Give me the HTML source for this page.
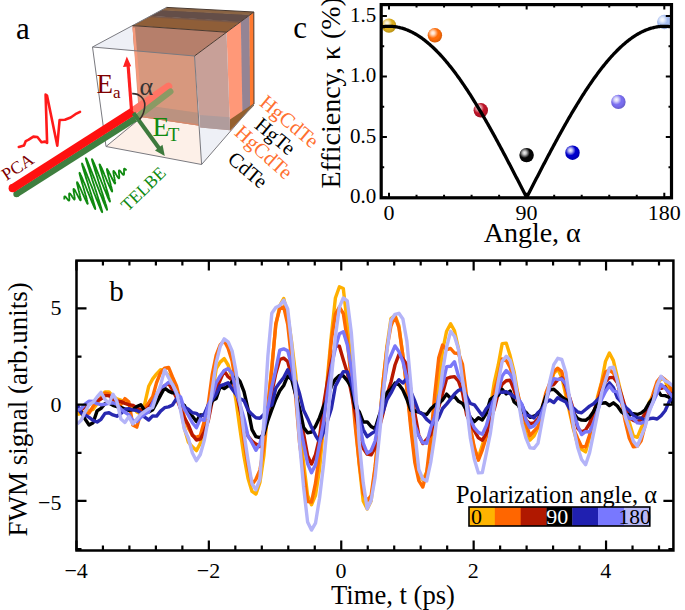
<!DOCTYPE html>
<html><head><meta charset="utf-8"><style>
html,body{margin:0;padding:0;background:#fff;overflow:hidden;width:685px;height:610px;}
svg{display:block;}
text{font-family:"Liberation Serif", serif;}
</style></head><body>
<svg width="685" height="610" viewBox="0 0 685 610" font-family='"Liberation Serif", serif'>
<defs>
<radialGradient id="hl" cx="0.36" cy="0.34" r="0.36"><stop offset="0" stop-color="#fff" stop-opacity="0.95"/><stop offset="0.35" stop-color="#fff" stop-opacity="0.75"/><stop offset="1" stop-color="#fff" stop-opacity="0"/></radialGradient>
<radialGradient id="sh" cx="0.45" cy="0.42" r="0.6"><stop offset="0.6" stop-color="#000" stop-opacity="0"/><stop offset="1" stop-color="#000" stop-opacity="0.18"/></radialGradient>
</defs>
<polygon points="92.5,47.0 194.5,56.0 253.8,12.0 166.5,7.4" fill="#eef0f6"/>
<polygon points="194.5,56.0 253.8,12.0 254.0,104.0 201.6,164.5" fill="#eef0f6"/>
<polygon points="106.0,146.5 201.6,164.5 230.0,130.3 139.0,116.8" fill="#fdf0e8"/>
<polygon points="132.5,25.6 226.5,32.2 230.0,130.3 139.0,116.8" fill="#d7987e"/>
<polygon points="138.5,104.3 229.5,117.3 230.0,130.3 139.0,116.8" fill="#bb9280"/>
<line x1="139" y1="116.2" x2="230" y2="129.70000000000002" stroke="#d8886a" stroke-width="1.2"/>
<polygon points="132.5,25.6 226.5,32.2 240.2,22.1 149.5,16.5" fill="#8f5e38"/>
<polygon points="148.0,17.3 239.0,23.0 241.3,21.2 151.0,15.7" fill="#7a5846"/>
<polygon points="150.2,16.1 240.8,21.7 250.2,14.6 162.1,9.8" fill="#644e48"/>
<polygon points="161.3,10.2 249.6,15.1 253.8,12.0 166.5,7.4" fill="#8a6444"/>
<polygon points="226.5,32.2 241.3,21.2 243.0,116.7 229.9,131.8" fill="#ff9878"/>
<polygon points="240.8,21.7 249.6,15.1 250.3,108.2 242.5,117.3" fill="#948494"/>
<polygon points="249.4,15.3 253.8,12.0 254.0,104.0 250.1,108.5" fill="#ff7a30"/>
<polygon points="230.0,130.5 254.0,105.5 254.0,103.3 230.0,119.5" fill="#94602f"/>
<polygon points="134.2,50.8 194.5,56.0 226.5,32.2 132.5,25.6" fill="#b67f6b"/>
<polygon points="194.5,56.0 226.5,32.2 230.0,130.3 201.6,164.5" fill="#eef0f6"/>
<polygon points="194.5,56.0 226.5,32.2 230.0,130.3 200.2,127.4" fill="#c8a098"/>
<polygon points="199.9,114.9 229.5,117.3 230.0,130.3 200.2,127.4" fill="#b09c9c"/>
<line x1="133.7" y1="27.6" x2="140.2" y2="102.8" stroke="#f59a7c" stroke-width="2.5"/>
<path d="M92.5,47.0 166.5,7.4M92.5,47.0 106.0,146.5M106.0,146.5 201.6,164.5M201.6,164.5 254.0,104.0M194.5,56.0 201.6,164.5M92.5,47.0 194.5,56.0M106.0,146.5 137.0,121.0" stroke="#7a7a80" stroke-width="1" fill="none"/>
<path d="M194.5,56.0 253.8,12.0M253.8,12.0 254.0,104.0M166.5,7.4 253.8,12.0M132.5,25.6 226.5,32.2" stroke="#4a3a30" stroke-width="1" fill="none"/>
<line x1="133" y1="111" x2="168.5" y2="86.5" stroke="#ff7464" stroke-width="7.6" stroke-linecap="round"/>
<line x1="137" y1="117" x2="170.5" y2="91.5" stroke="#8a9a64" stroke-width="6" stroke-linecap="round"/>
<line x1="16.5" y1="194.1" x2="135.2" y2="118.5" stroke="#3f7f3f" stroke-width="6.4"/><circle cx="16.5" cy="194.1" r="3.2" fill="#3f7f3f"/>
<line x1="12.7" y1="188.2" x2="133.2" y2="111.3" stroke="#ff1010" stroke-width="8.2"/><circle cx="12.7" cy="188.2" r="4.1" fill="#ff1010"/>
<line x1="131.5" y1="110" x2="128" y2="64" stroke="#ff2020" stroke-width="3.2"/>
<polygon points="126.8,56.5 123.0,67.0 131.2,66.3" fill="#ff2020"/>
<line x1="133.5" y1="113" x2="160" y2="149.5" stroke="#3d7a3d" stroke-width="4"/>
<polygon points="164.8,156.0 155.0,150.5 162.5,144.8" fill="#3d7a3d"/>
<path d="M132.2,93.6 C139.5,93.4 144.9,98.5 144.8,105 C144.7,111 142.6,116 139.6,119.6" stroke="#3a2c2c" stroke-width="1.6" fill="none"/>
<text x="96.4" y="93" font-size="27" fill="#7f0000">E</text>
<text x="113" y="98" font-size="17" fill="#7f0000">a</text>
<text x="139.5" y="95.3" font-size="26" fill="#333">α</text>
<text x="152.5" y="135.6" font-size="27.5" fill="#108a10">E</text>
<text x="168" y="140.9" font-size="18.5" fill="#108a10">T</text>
<polyline points="18.8,146.9 24.0,145.5 25.8,141.1 28.7,139.7 33.4,136.6 37.4,137.0 41.5,142.2 45.0,141.6 47.1,142.8 45.6,94.6 47.0,95.5 57.3,145.7 59.6,120.0 64.9,119.8 70.7,117.5 75.4,114.2 80.0,111.9" fill="none" stroke="#ff1a1a" stroke-width="2.6" stroke-linejoin="round" stroke-linecap="round"/>
<polyline points="64.3,199.5 64.3,199.2 64.3,198.9 64.3,198.5 64.3,198.2 64.3,198.0 64.3,197.7 64.3,197.4 64.3,197.2 64.3,197.0 64.4,196.8 64.4,196.6 64.5,196.5 64.6,196.4 64.6,196.4 64.7,196.3 64.8,196.3 64.9,196.4 65.1,196.4 65.2,196.5 65.4,196.6 65.5,196.8 65.7,197.0 65.8,197.2 66.0,197.4 66.2,197.6 66.4,197.8 66.6,198.1 66.8,198.3 67.0,198.6 67.2,198.9 67.4,199.1 67.6,199.3 67.7,199.6 67.9,199.8 68.1,200.0 68.3,200.1 68.4,200.3 68.6,200.4 68.7,200.5 68.8,200.6 68.9,200.6 69.0,200.6 69.1,200.5 69.2,200.4 69.3,200.3 69.3,200.2 69.3,200.0 69.4,199.8 69.4,199.5 69.4,199.2 69.4,198.9 69.4,198.6 69.4,198.3 69.3,197.9 69.3,197.6 69.3,197.2 69.2,196.8 69.2,196.4 69.2,196.1 69.2,195.7 69.1,195.3 69.1,195.0 69.1,194.7 69.1,194.4 69.1,194.1 69.1,193.9 69.2,193.7 69.2,193.6 69.3,193.4 69.4,193.3 69.5,193.3 69.6,193.3 69.7,193.3 69.8,193.4 70.0,193.5 70.1,193.7 70.3,193.9 70.5,194.1 70.7,194.4 70.9,194.7 71.1,195.0 71.3,195.3 71.5,195.7 71.8,196.0 72.0,196.4 72.2,196.7 72.5,197.1 72.7,197.5 72.9,197.8 73.1,198.1 73.3,198.4 73.5,198.7 73.7,198.9 73.9,199.1 74.1,199.3 74.2,199.4 74.3,199.5 74.4,199.5 74.5,199.4 74.6,199.4 74.7,199.2 74.7,199.0 74.7,198.8 74.7,198.5 74.7,198.2 74.7,197.8 74.6,197.4 74.6,196.9 74.5,196.5 74.4,195.9 74.3,195.4 74.3,194.9 74.2,194.3 74.1,193.7 74.0,193.2 73.9,192.6 73.8,192.1 73.7,191.6 73.6,191.1 73.6,190.6 73.5,190.2 73.5,189.9 73.5,189.5 73.5,189.3 73.6,189.1 73.6,189.0 73.7,188.9 73.8,188.9 73.9,189.0 74.1,189.1 74.3,189.3 74.5,189.6 74.7,189.9 74.9,190.3 75.2,190.8 75.5,191.3 75.8,191.9 76.1,192.4 76.4,193.1 76.7,193.7 77.1,194.4 77.4,195.0 77.8,195.7 78.1,196.3 78.4,197.0 78.7,197.6 79.0,198.1 79.3,198.6 79.6,199.1 79.8,199.5 80.1,199.8 80.2,200.1 80.4,200.2 80.5,200.3 80.6,200.3 80.7,200.2 80.8,200.0 80.8,199.7 80.7,199.4 80.7,198.9 80.6,198.3 80.4,197.7 80.3,197.0 80.1,196.2 79.9,195.4 79.7,194.5 79.5,193.5 79.2,192.5 79.0,191.5 78.7,190.5 78.5,189.5 78.2,188.6 78.0,187.6 77.8,186.7 77.6,185.8 77.4,185.0 77.2,184.3 77.1,183.7 77.0,183.1 77.0,182.7 77.0,182.4 77.0,182.2 77.1,182.1 77.2,182.1 77.3,182.3 77.5,182.6 77.8,183.0 78.1,183.5 78.4,184.2 78.8,185.0 79.2,185.8 79.7,186.8 80.2,187.9 80.7,189.0 81.2,190.2 81.7,191.4 82.3,192.6 82.8,193.9 83.4,195.1 83.9,196.4 84.4,197.5 84.9,198.7 85.4,199.7 85.9,200.7 86.3,201.5 86.6,202.3 87.0,202.9 87.2,203.4 87.4,203.7 87.6,203.9 87.7,203.9 87.8,203.7 87.7,203.4 87.7,202.9 87.5,202.2 87.3,201.4 87.1,200.4 86.8,199.3 86.5,198.0 86.1,196.6 85.6,195.1 85.2,193.6 84.7,191.9 84.2,190.2 83.7,188.5 83.2,186.8 82.7,185.0 82.2,183.4 81.7,181.7 81.3,180.2 80.8,178.7 80.5,177.4 80.2,176.2 79.9,175.2 79.7,174.3 79.5,173.6 79.5,173.1 79.5,172.9 79.6,172.8 79.7,172.9 79.9,173.3 80.3,173.9 80.6,174.6 81.1,175.6 81.6,176.8 82.2,178.2 82.8,179.7 83.5,181.4 84.3,183.1 85.1,185.0 85.9,187.0 86.7,189.1 87.5,191.1 88.4,193.2 89.2,195.2 90.0,197.2 90.8,199.2 91.5,201.0 92.2,202.6 92.9,204.2 93.5,205.5 94.0,206.7 94.4,207.6 94.8,208.3 95.1,208.8 95.2,209.0 95.3,209.0 95.3,208.7 95.2,208.1 95.0,207.3 94.8,206.2 94.4,204.9 93.9,203.3 93.4,201.6 92.8,199.6 92.2,197.5 91.5,195.3 90.7,192.9 90.0,190.4 89.2,187.9 88.4,185.4 87.6,182.8 86.8,180.3 86.0,177.9 85.3,175.5 84.6,173.3 84.0,171.3 83.4,169.4 83.0,167.8 82.6,166.4 82.3,165.3 82.1,164.4 82.0,163.8 82.0,163.5 82.1,163.5 82.3,163.8 82.6,164.4 83.0,165.3 83.6,166.5 84.2,168.0 84.9,169.7 85.7,171.7 86.6,173.8 87.5,176.2 88.5,178.7 89.5,181.3 90.6,184.0 91.7,186.7 92.8,189.5 93.8,192.3 94.9,195.0 95.9,197.6 96.9,200.1 97.9,202.4 98.7,204.6 99.5,206.5 100.2,208.2 100.8,209.6 101.3,210.7 101.7,211.5 102.0,212.0 102.2,212.2 102.2,212.1 102.2,211.6 102.0,210.8 101.7,209.7 101.3,208.2 100.8,206.5 100.2,204.5 99.5,202.3 98.7,199.9 97.9,197.3 97.0,194.5 96.1,191.6 95.1,188.6 94.2,185.6 93.2,182.6 92.2,179.6 91.3,176.6 90.4,173.8 89.5,171.1 88.8,168.6 88.0,166.3 87.4,164.3 86.9,162.5 86.4,161.0 86.1,159.8 85.9,158.9 85.8,158.4 85.9,158.2 86.0,158.3 86.3,158.7 86.7,159.5 87.2,160.7 87.8,162.1 88.5,163.8 89.3,165.8 90.2,168.0 91.1,170.4 92.2,173.0 93.2,175.7 94.4,178.6 95.5,181.5 96.6,184.4 97.8,187.4 98.9,190.2 100.0,193.1 101.1,195.7 102.1,198.3 103.0,200.6 103.9,202.8 104.7,204.7 105.3,206.3 105.9,207.6 106.4,208.6 106.8,209.4 107.0,209.8 107.1,209.8 107.1,209.5 107.0,209.0 106.8,208.1 106.5,206.8 106.1,205.3 105.5,203.6 104.9,201.6 104.2,199.4 103.5,197.0 102.7,194.4 101.8,191.7 100.9,188.9 100.0,186.1 99.1,183.3 98.2,180.4 97.4,177.7 96.5,175.0 95.7,172.4 94.9,170.0 94.3,167.8 93.7,165.8 93.1,164.0 92.7,162.5 92.3,161.3 92.1,160.3 92.0,159.6 91.9,159.2 92.0,159.1 92.2,159.4 92.5,159.9 92.9,160.7 93.3,161.7 93.9,163.0 94.6,164.6 95.3,166.3 96.1,168.2 96.9,170.3 97.8,172.6 98.7,174.9 99.7,177.3 100.7,179.7 101.6,182.1 102.6,184.5 103.5,186.8 104.4,189.1 105.3,191.2 106.1,193.2 106.8,195.0 107.5,196.6 108.1,198.1 108.7,199.3 109.1,200.2 109.5,200.9 109.7,201.4 109.9,201.6 110.0,201.5 110.0,201.2 109.9,200.7 109.7,199.9 109.5,198.9 109.1,197.7 108.7,196.3 108.3,194.7 107.8,193.0 107.2,191.1 106.6,189.2 106.0,187.2 105.4,185.1 104.7,183.0 104.1,180.9 103.5,178.9 102.9,176.9 102.3,175.0 101.8,173.2 101.3,171.5 100.8,170.0 100.4,168.6 100.1,167.4 99.9,166.4 99.7,165.5 99.6,164.9 99.5,164.5 99.5,164.3 99.6,164.3 99.8,164.5 100.1,164.9 100.4,165.5 100.7,166.2 101.2,167.2 101.7,168.2 102.2,169.4 102.8,170.7 103.4,172.1 104.0,173.6 104.6,175.1 105.3,176.7 105.9,178.2 106.6,179.8 107.2,181.3 107.9,182.8 108.5,184.2 109.0,185.5 109.6,186.7 110.1,187.8 110.5,188.8 110.9,189.6 111.3,190.3 111.6,190.9 111.8,191.2 112.0,191.5 112.1,191.5 112.2,191.4 112.2,191.2 112.2,190.8 112.1,190.3 112.0,189.6 111.8,188.8 111.6,187.9 111.3,186.9 111.0,185.9 110.7,184.7 110.4,183.6 110.1,182.3 109.8,181.1 109.4,179.9 109.1,178.6 108.8,177.4 108.4,176.2 108.2,175.1 107.9,174.1 107.6,173.1 107.4,172.2 107.3,171.4 107.1,170.8 107.0,170.2 107.0,169.7 106.9,169.4 107.0,169.2 107.0,169.0 107.1,169.1 107.3,169.2 107.5,169.4 107.7,169.7 107.9,170.1 108.2,170.6 108.5,171.2 108.9,171.9 109.2,172.6 109.6,173.4 110.0,174.2 110.4,175.0 110.8,175.8 111.2,176.6 111.6,177.5 112.0,178.3 112.3,179.0 112.7,179.8 113.1,180.5 113.4,181.1 113.7,181.7 114.0,182.2 114.2,182.6 114.4,182.9 114.6,183.2 114.8,183.4 114.9,183.4 115.0,183.5 115.1,183.4 115.2,183.2 115.2,183.0 115.2,182.7 115.2,182.3 115.1,181.9 115.0,181.4 114.9,180.8 114.8,180.2 114.7,179.6 114.6,179.0 114.5,178.3 114.3,177.6 114.2,177.0 114.1,176.3 113.9,175.6 113.8,175.0 113.7,174.4 113.6,173.8 113.5,173.3 113.4,172.8 113.4,172.4 113.4,172.0 113.3,171.7 113.4,171.4 113.4,171.2 113.4,171.1 113.5,171.0 113.6,171.0 113.7,171.0 113.9,171.1 114.0,171.2 114.2,171.4 114.4,171.7 114.6,172.0 114.8,172.3 115.0,172.7 115.3,173.0 115.5,173.4 115.8,173.9 116.0,174.3 116.3,174.7 116.5,175.1 116.8,175.6 117.0,176.0 117.3,176.3 117.5,176.7 117.7,177.0 117.9,177.3 118.1,177.6 118.3,177.8 118.5,178.0 118.6,178.1 118.8,178.2 118.9,178.3 119.0,178.3 119.1,178.2 119.2,178.1 119.2,178.0 119.3,177.8 119.3,177.6 119.3,177.3 119.3,177.0 119.3,176.7 119.3,176.4 119.2,176.0 119.2,175.6 119.2,175.2 119.1,174.8 119.1,174.4 119.0,174.0 119.0,173.6 119.0,173.2 118.9,172.8 118.9,172.4 118.9,172.1 118.9,171.8 118.9,171.5 118.9,171.2 118.9,171.0 118.9,170.8 119.0,170.6 119.0,170.5 119.1,170.4 119.2,170.4 119.3,170.4 119.4,170.4 119.6,170.5 119.7,170.6 119.8,170.7 120.0,170.9 120.2,171.1 120.4,171.3 120.5,171.5 120.7,171.7 120.9,172.0 121.1,172.3 121.3,172.5 121.5,172.8 121.7,173.1 121.9,173.4 122.1,173.6 122.3,173.9 122.5,174.1 122.7,174.3 122.8,174.5 123.0,174.6 123.1,174.7 123.3,174.8 123.4,174.9 123.5,174.9 123.6,174.9 123.7,174.9 123.8,174.8 123.9,174.7 123.9,174.6 124.0,174.4 124.0,174.2 124.0,174.0 124.0,173.8 124.1,173.5 124.1,173.2 124.1,172.9 124.0,172.6 124.0,172.3 124.0,172.0 124.0,171.7 124.0,171.3 124.0,171.0 124.0,170.7 124.0,170.4 124.0,170.1 124.0,169.8 124.0,169.6 124.0,169.4 124.1,169.2 124.1,169.0 124.2,168.8 124.2,168.7 124.3,168.6 124.4,168.6 124.5,168.6 124.6,168.6 124.7,168.6 124.8,168.7 125.0,168.8 125.1,168.9 125.3,169.0 125.4,169.2 125.6,169.4 125.8,169.6 125.9,169.8 126.1,170.0 126.3,170.3 126.5,170.5" fill="none" stroke="#108a10" stroke-width="1.8" stroke-linejoin="round"/>
<text transform="translate(6.5,181) rotate(-33)" font-size="17.5" fill="#800000">PCA</text>
<text transform="translate(127.8,212) rotate(-44)" font-size="17.5" fill="#108a10">TELBE</text>
<text transform="translate(258.5,104.5) rotate(40)" font-size="20.5" fill="#ff7030">HgCdTe</text>
<text transform="translate(253.5,127) rotate(40)" font-size="20.5" fill="#000">HgTe</text>
<text transform="translate(233.5,134) rotate(42)" font-size="20.5" fill="#ff7030">HgCdTe</text>
<text transform="translate(226.5,161) rotate(40)" font-size="20.5" fill="#000">CdTe</text>
<text x="16" y="39" font-size="31">a</text>
<text x="376.2" y="203.4" text-anchor="end" font-size="21">0.0</text>
<text x="376.2" y="142.9" text-anchor="end" font-size="21">0.5</text>
<text x="376.2" y="82.3" text-anchor="end" font-size="21">1.0</text>
<text x="376.2" y="21.8" text-anchor="end" font-size="21">1.5</text>
<text x="389.0" y="219.6" text-anchor="middle" font-size="22">0</text>
<text x="526.6" y="219.6" text-anchor="middle" font-size="22">90</text>
<text x="664.3" y="219.6" text-anchor="middle" font-size="22">180</text>
<text x="483.7" y="241.5" font-size="28">Angle, α</text>
<text transform="translate(339.5,188.5) rotate(-90)" font-size="28">Efficiency, κ (%)</text>
<text x="293.2" y="37.6" font-size="31">c</text>
<circle cx="389.0" cy="25.6" r="7.2" fill="#dcae1c"/><circle cx="389.0" cy="25.6" r="7.2" fill="url(#sh)"/><circle cx="389.0" cy="25.6" r="7.2" fill="url(#hl)"/>
<circle cx="434.9" cy="35.3" r="7.2" fill="#ff6c08"/><circle cx="434.9" cy="35.3" r="7.2" fill="url(#sh)"/><circle cx="434.9" cy="35.3" r="7.2" fill="url(#hl)"/>
<circle cx="480.8" cy="110.3" r="7.2" fill="#be1428"/><circle cx="480.8" cy="110.3" r="7.2" fill="url(#sh)"/><circle cx="480.8" cy="110.3" r="7.2" fill="url(#hl)"/>
<circle cx="526.6" cy="155.1" r="7.2" fill="#050505"/><circle cx="526.6" cy="155.1" r="7.2" fill="url(#sh)"/><circle cx="526.6" cy="155.1" r="7.2" fill="url(#hl)"/>
<circle cx="572.5" cy="152.7" r="7.2" fill="#0000cc"/><circle cx="572.5" cy="152.7" r="7.2" fill="url(#sh)"/><circle cx="572.5" cy="152.7" r="7.2" fill="url(#hl)"/>
<circle cx="618.4" cy="101.9" r="7.2" fill="#7a6ef0"/><circle cx="618.4" cy="101.9" r="7.2" fill="url(#sh)"/><circle cx="618.4" cy="101.9" r="7.2" fill="url(#hl)"/>
<circle cx="664.3" cy="22.0" r="7.2" fill="#a6bef2"/><circle cx="664.3" cy="22.0" r="7.2" fill="url(#sh)"/><circle cx="664.3" cy="22.0" r="7.2" fill="url(#hl)"/>
<clipPath id="cclip"><rect x="381.2" y="4.6" width="290.3" height="193.20000000000002"/></clipPath><polyline clip-path="url(#cclip)" points="376.76,27.98 377.53,27.78 378.29,27.59 379.06,27.41 379.82,27.25 380.59,27.10 381.35,26.96 382.12,26.84 382.88,26.73 383.65,26.63 384.41,26.55 385.18,26.47 385.94,26.42 386.71,26.37 387.47,26.34 388.24,26.32 389.00,26.31 389.76,26.32 390.53,26.34 391.29,26.37 392.06,26.42 392.82,26.47 393.59,26.55 394.35,26.63 395.12,26.73 395.88,26.84 396.65,26.96 397.41,27.10 398.18,27.25 398.94,27.41 399.71,27.59 400.47,27.78 401.24,27.98 402.00,28.19 402.76,28.42 403.53,28.66 404.29,28.91 405.06,29.18 405.82,29.46 406.59,29.75 407.35,30.05 408.12,30.37 408.88,30.70 409.65,31.04 410.41,31.40 411.18,31.76 411.94,32.14 412.71,32.54 413.47,32.94 414.24,33.36 415.00,33.79 415.77,34.23 416.53,34.69 417.29,35.16 418.06,35.64 418.82,36.13 419.59,36.64 420.35,37.15 421.12,37.68 421.88,38.22 422.65,38.78 423.41,39.34 424.18,39.92 424.94,40.51 425.71,41.11 426.47,41.73 427.24,42.35 428.00,42.99 428.77,43.64 429.53,44.30 430.30,44.97 431.06,45.65 431.82,46.35 432.59,47.06 433.35,47.78 434.12,48.51 434.88,49.25 435.65,50.00 436.41,50.76 437.18,51.54 437.94,52.32 438.71,53.12 439.47,53.93 440.24,54.75 441.00,55.58 441.77,56.42 442.53,57.27 443.30,58.13 444.06,59.01 444.82,59.89 445.59,60.78 446.35,61.69 447.12,62.60 447.88,63.53 448.65,64.46 449.41,65.41 450.18,66.36 450.94,67.33 451.71,68.30 452.47,69.29 453.24,70.28 454.00,71.29 454.77,72.30 455.53,73.32 456.30,74.36 457.06,75.40 457.82,76.45 458.59,77.51 459.35,78.58 460.12,79.66 460.88,80.75 461.65,81.85 462.41,82.95 463.18,84.07 463.94,85.19 464.71,86.32 465.47,87.46 466.24,88.61 467.00,89.77 467.77,90.93 468.53,92.11 469.30,93.29 470.06,94.48 470.83,95.67 471.59,96.88 472.35,98.09 473.12,99.31 473.88,100.54 474.65,101.77 475.41,103.01 476.18,104.26 476.94,105.52 477.71,106.78 478.47,108.05 479.24,109.33 480.00,110.62 480.77,111.91 481.53,113.20 482.30,114.51 483.06,115.82 483.83,117.13 484.59,118.45 485.36,119.78 486.12,121.12 486.88,122.46 487.65,123.80 488.41,125.15 489.18,126.51 489.94,127.87 490.71,129.24 491.47,130.61 492.24,131.99 493.00,133.37 493.77,134.76 494.53,136.15 495.30,137.55 496.06,138.95 496.83,140.36 497.59,141.77 498.36,143.18 499.12,144.60 499.88,146.02 500.65,147.45 501.41,148.88 502.18,150.31 502.94,151.75 503.71,153.19 504.47,154.64 505.24,156.09 506.00,157.54 506.77,158.99 507.53,160.45 508.30,161.91 509.06,163.37 509.83,164.84 510.59,166.30 511.36,167.77 512.12,169.25 512.88,170.72 513.65,172.20 514.41,173.68 515.18,175.16 515.94,176.64 516.71,178.12 517.47,179.61 518.24,181.09 519.00,182.58 519.77,184.07 520.53,185.56 521.30,187.05 522.06,188.54 522.83,190.03 523.59,191.53 524.36,193.02 525.12,194.51 525.89,196.01 526.65,197.50 527.41,196.01 528.18,194.51 528.94,193.02 529.71,191.53 530.47,190.03 531.24,188.54 532.00,187.05 532.77,185.56 533.53,184.07 534.30,182.58 535.06,181.09 535.83,179.61 536.59,178.12 537.36,176.64 538.12,175.16 538.89,173.68 539.65,172.20 540.41,170.72 541.18,169.25 541.94,167.77 542.71,166.30 543.47,164.84 544.24,163.37 545.00,161.91 545.77,160.45 546.53,158.99 547.30,157.54 548.06,156.09 548.83,154.64 549.59,153.19 550.36,151.75 551.12,150.31 551.89,148.88 552.65,147.45 553.42,146.02 554.18,144.60 554.94,143.18 555.71,141.77 556.47,140.36 557.24,138.95 558.00,137.55 558.77,136.15 559.53,134.76 560.30,133.37 561.06,131.99 561.83,130.61 562.59,129.24 563.36,127.87 564.12,126.51 564.89,125.15 565.65,123.80 566.42,122.46 567.18,121.12 567.94,119.78 568.71,118.45 569.47,117.13 570.24,115.82 571.00,114.51 571.77,113.20 572.53,111.91 573.30,110.62 574.06,109.33 574.83,108.05 575.59,106.78 576.36,105.52 577.12,104.26 577.89,103.01 578.65,101.77 579.42,100.54 580.18,99.31 580.95,98.09 581.71,96.88 582.47,95.67 583.24,94.48 584.00,93.29 584.77,92.11 585.53,90.93 586.30,89.77 587.06,88.61 587.83,87.46 588.59,86.32 589.36,85.19 590.12,84.07 590.89,82.95 591.65,81.85 592.42,80.75 593.18,79.66 593.95,78.58 594.71,77.51 595.47,76.45 596.24,75.40 597.00,74.36 597.77,73.32 598.53,72.30 599.30,71.29 600.06,70.28 600.83,69.29 601.59,68.30 602.36,67.33 603.12,66.36 603.89,65.41 604.65,64.46 605.42,63.53 606.18,62.60 606.95,61.69 607.71,60.78 608.48,59.89 609.24,59.01 610.00,58.13 610.77,57.27 611.53,56.42 612.30,55.58 613.06,54.75 613.83,53.93 614.59,53.12 615.36,52.32 616.12,51.54 616.89,50.76 617.65,50.00 618.42,49.25 619.18,48.51 619.95,47.78 620.71,47.06 621.48,46.35 622.24,45.65 623.00,44.97 623.77,44.30 624.53,43.64 625.30,42.99 626.06,42.35 626.83,41.73 627.59,41.11 628.36,40.51 629.12,39.92 629.89,39.34 630.65,38.78 631.42,38.22 632.18,37.68 632.95,37.15 633.71,36.64 634.48,36.13 635.24,35.64 636.01,35.16 636.77,34.69 637.53,34.23 638.30,33.79 639.06,33.36 639.83,32.94 640.59,32.54 641.36,32.14 642.12,31.76 642.89,31.40 643.65,31.04 644.42,30.70 645.18,30.37 645.95,30.05 646.71,29.75 647.48,29.46 648.24,29.18 649.01,28.91 649.77,28.66 650.53,28.42 651.30,28.19 652.06,27.98 652.83,27.78 653.59,27.59 654.36,27.41 655.12,27.25 655.89,27.10 656.65,26.96 657.42,26.84 658.18,26.73 658.95,26.63 659.71,26.55 660.48,26.47 661.24,26.42 662.01,26.37 662.77,26.34 663.54,26.32 664.30,26.31 665.06,26.32 665.83,26.34 666.59,26.37 667.36,26.42 668.12,26.47 668.89,26.55 669.65,26.63 670.42,26.73 671.18,26.84 671.95,26.96 672.71,27.10 673.48,27.25 674.24,27.41 675.01,27.59 675.77,27.78 676.54,27.98" fill="none" stroke="#000" stroke-width="3.3" stroke-linejoin="round"/>
<path d="M389.00,197.8v-5M389.00,4.6v5M416.53,197.8v-3M416.53,4.6v3M444.06,197.8v-3M444.06,4.6v3M471.59,197.8v-3M471.59,4.6v3M499.12,197.8v-3M499.12,4.6v3M526.65,197.8v-5M526.65,4.6v5M554.18,197.8v-3M554.18,4.6v3M581.71,197.8v-3M581.71,4.6v3M609.24,197.8v-3M609.24,4.6v3M636.77,197.8v-3M636.77,4.6v3M664.30,197.8v-5M664.30,4.6v5M381.2,197.50h5.7M671.5,197.50h-5.7M381.2,167.23h3M671.5,167.23h-3M381.2,136.97h5.7M671.5,136.97h-5.7M381.2,106.70h3M671.5,106.70h-3M381.2,76.43h5.7M671.5,76.43h-5.7M381.2,46.17h3M671.5,46.17h-3M381.2,15.90h5.7M671.5,15.90h-5.7" stroke="#000" stroke-width="2" fill="none"/><rect x="381.2" y="4.6" width="290.3" height="193.20000000000002" fill="none" stroke="#000" stroke-width="3.2"/>
<clipPath id="bclip"><rect x="76.5" y="260.6" width="596.9" height="289.9"/></clipPath>
<g clip-path="url(#bclip)">
<polyline points="77.2,414.3 81.2,413.5 85.1,411.8 89.1,410.6 93.1,409.3 97.1,403.8 101.0,396.8 105.0,391.9 109.0,392.0 112.9,396.3 116.9,398.9 120.9,400.1 124.9,402.7 128.8,404.6 132.8,406.3 136.8,411.9 140.8,414.1 144.7,403.8 148.7,386.3 152.7,378.9 156.6,373.9 160.6,369.7 164.6,371.3 168.6,375.4 172.5,380.7 176.5,392.6 180.5,407.0 184.4,428.3 188.4,442.2 192.4,446.8 196.4,450.6 200.3,443.4 204.3,431.5 208.3,415.0 212.2,394.3 216.2,368.7 220.2,362.1 224.2,358.6 228.1,365.0 232.1,377.9 236.1,401.3 240.1,430.0 244.0,456.5 248.0,478.2 252.0,491.4 255.9,494.1 259.9,482.4 263.9,455.5 267.9,407.0 271.8,366.8 275.8,325.7 279.8,305.5 283.7,298.5 287.7,315.0 291.7,342.6 295.7,375.4 299.6,426.1 303.6,462.7 307.6,495.4 311.5,504.8 315.5,495.3 319.5,469.5 323.5,426.0 327.4,377.9 331.4,334.9 335.4,298.0 339.4,286.8 343.3,288.5 347.3,323.7 351.3,366.3 355.2,419.5 359.2,464.5 363.2,501.0 367.2,509.0 371.1,501.0 375.1,468.1 379.1,427.3 383.0,382.9 387.0,346.0 391.0,318.6 395.0,315.4 398.9,325.5 402.9,356.0 406.9,387.8 410.8,423.6 414.8,454.8 418.8,474.8 422.8,480.1 426.7,472.2 430.7,450.8 434.7,418.4 438.7,382.5 442.6,350.5 446.6,331.2 450.6,323.7 454.5,330.8 458.5,348.9 462.5,376.1 466.5,403.6 470.4,427.2 474.4,450.1 478.4,457.3 482.3,445.2 486.3,432.7 490.3,407.4 494.3,382.3 498.2,365.2 502.2,343.6 506.2,343.1 510.1,355.6 514.1,371.8 518.1,395.4 522.1,419.5 526.0,434.0 530.0,440.1 534.0,436.0 538.0,427.8 541.9,415.4 545.9,396.6 549.9,387.0 553.8,373.4 557.8,369.0 561.8,377.4 565.8,395.1 569.7,412.7 573.7,430.1 577.7,444.8 581.6,449.3 585.6,451.9 589.6,437.2 593.6,416.7 597.5,397.0 601.5,382.4 605.5,361.4 609.4,353.0 613.4,360.6 617.4,377.7 621.4,394.5 625.3,412.0 629.3,422.6 633.3,435.8 637.3,437.3 641.2,427.8 645.2,420.5 649.2,402.4 653.1,395.3 657.1,385.1 661.1,378.1 665.1,380.2 669.0,392.1 673.0,398.2" fill="none" stroke="#ffb000" stroke-width="3.4" stroke-linejoin="round"/>
<polyline points="77.2,410.5 81.2,411.8 85.1,414.0 89.1,413.2 93.1,406.3 97.1,401.0 101.0,398.4 105.0,393.1 109.0,394.0 112.9,400.6 116.9,402.8 120.9,404.5 124.9,398.6 128.8,401.8 132.8,424.9 136.8,427.1 140.8,413.1 144.7,408.2 148.7,402.8 152.7,396.8 156.6,382.5 160.6,372.7 164.6,368.1 168.6,367.4 172.5,376.9 176.5,386.0 180.5,401.7 184.4,416.9 188.4,428.0 192.4,435.5 196.4,437.4 200.3,435.5 204.3,421.1 208.3,403.7 212.2,374.7 216.2,355.1 220.2,345.0 224.2,340.7 228.1,348.2 232.1,361.1 236.1,385.0 240.1,408.6 244.0,440.8 248.0,466.2 252.0,484.5 255.9,479.3 259.9,470.1 263.9,446.5 267.9,404.6 271.8,369.0 275.8,323.6 279.8,308.6 283.7,306.9 287.7,324.3 291.7,360.5 295.7,397.1 299.6,443.0 303.6,473.7 307.6,501.6 311.5,502.1 315.5,483.2 319.5,453.9 323.5,422.6 327.4,382.6 331.4,340.3 335.4,314.1 339.4,307.1 343.3,313.5 347.3,339.8 351.3,381.2 355.2,425.8 359.2,463.1 363.2,493.5 367.2,500.8 371.1,495.5 375.1,467.0 379.1,428.4 383.0,382.5 387.0,347.7 391.0,325.8 395.0,316.4 398.9,327.8 402.9,355.8 406.9,389.5 410.8,428.6 414.8,462.3 418.8,480.7 422.8,487.0 426.7,472.1 430.7,437.6 434.7,394.9 438.7,358.1 442.6,345.1 446.6,349.7 450.6,348.5 454.5,353.0 458.5,353.6 462.5,364.4 466.5,395.5 470.4,429.2 474.4,447.5 478.4,460.2 482.3,450.1 486.3,437.1 490.3,414.0 494.3,391.2 498.2,377.8 502.2,359.1 506.2,360.3 510.1,367.4 514.1,380.4 518.1,394.9 522.1,411.6 526.0,424.0 530.0,435.7 534.0,431.1 538.0,426.9 541.9,409.0 545.9,393.0 549.9,382.9 553.8,371.4 557.8,368.2 561.8,371.5 565.8,389.8 569.7,409.2 573.7,429.0 577.7,438.4 581.6,446.7 585.6,446.7 589.6,435.1 593.6,418.8 597.5,399.9 601.5,383.7 605.5,372.0 609.4,369.9 613.4,373.1 617.4,380.7 621.4,401.4 625.3,421.7 629.3,438.3 633.3,446.7 637.3,446.2 641.2,440.7 645.2,424.8 649.2,407.7 653.1,393.6 657.1,381.5 661.1,376.7 665.1,379.7 669.0,383.1 673.0,394.8" fill="none" stroke="#ff6a00" stroke-width="3.4" stroke-linejoin="round"/>
<polyline points="77.2,410.5 81.2,409.6 85.1,407.1 89.1,404.2 93.1,401.8 97.1,400.8 101.0,398.9 105.0,395.6 109.0,395.6 112.9,398.9 116.9,400.8 120.9,401.6 124.9,403.4 128.8,404.6 132.8,405.3 136.8,407.6 140.8,409.9 144.7,410.3 148.7,407.4 152.7,402.4 156.6,396.6 160.6,390.7 164.6,385.7 168.6,383.4 172.5,389.9 176.5,397.8 180.5,408.6 184.4,417.9 188.4,424.9 192.4,434.9 196.4,440.0 200.3,439.1 204.3,431.7 208.3,420.6 212.2,400.8 216.2,389.0 220.2,380.0 224.2,370.9 228.1,376.7 232.1,380.0 236.1,391.0 240.1,410.4 244.0,424.9 248.0,436.2 252.0,441.0 255.9,444.0 259.9,446.5 263.9,429.0 267.9,413.7 271.8,392.5 275.8,373.5 279.8,359.5 283.7,358.1 287.7,361.5 291.7,376.7 295.7,394.1 299.6,414.0 303.6,433.8 307.6,455.7 311.5,464.1 315.5,454.6 319.5,437.7 323.5,405.5 327.4,381.8 331.4,362.4 335.4,345.9 339.4,346.2 343.3,359.7 347.3,372.7 351.3,392.3 355.2,413.3 359.2,432.7 363.2,448.3 367.2,454.2 371.1,454.9 375.1,447.6 379.1,428.4 383.0,413.6 387.0,394.7 391.0,382.0 395.0,365.0 398.9,354.7 402.9,358.8 406.9,364.8 410.8,390.1 414.8,413.4 418.8,435.1 422.8,443.6 426.7,439.3 430.7,434.6 434.7,417.0 438.7,407.3 442.6,393.2 446.6,378.5 450.6,377.1 454.5,376.6 458.5,381.1 462.5,392.7 466.5,414.3 470.4,423.2 474.4,430.9 478.4,437.9 482.3,440.2 486.3,433.6 490.3,420.8 494.3,408.7 498.2,393.6 502.2,384.2 506.2,380.8 510.1,380.2 514.1,390.2 518.1,402.6 522.1,407.0 526.0,420.3 530.0,423.6 534.0,422.9 538.0,418.9 541.9,412.5 545.9,400.9 549.9,385.6 553.8,384.5 557.8,379.7 561.8,378.0 565.8,386.2 569.7,397.8 573.7,410.6 577.7,428.2 581.6,432.0 585.6,429.9 589.6,423.5 593.6,411.9 597.5,401.7 601.5,391.5 605.5,381.6 609.4,377.6 613.4,377.5 617.4,382.6 621.4,394.9 625.3,407.4 629.3,417.9 633.3,420.3 637.3,421.7 641.2,419.5 645.2,413.4 649.2,404.7 653.1,397.6 657.1,388.6 661.1,388.4 665.1,386.8 669.0,393.4 673.0,393.4" fill="none" stroke="#b81800" stroke-width="3.4" stroke-linejoin="round"/>
<polyline points="77.2,408.6 81.2,411.8 85.1,419.1 89.1,425.0 93.1,422.7 97.1,410.9 101.0,408.3 105.0,403.6 109.0,403.1 112.9,405.3 116.9,406.6 120.9,407.4 124.9,409.1 128.8,410.4 132.8,409.6 136.8,406.5 140.8,404.7 144.7,410.5 148.7,411.9 152.7,409.8 156.6,402.7 160.6,395.1 164.6,388.0 168.6,391.1 172.5,392.9 176.5,392.7 180.5,402.8 184.4,405.4 188.4,413.4 192.4,416.3 196.4,421.6 200.3,414.9 204.3,415.3 208.3,412.5 212.2,400.8 216.2,398.5 220.2,386.5 224.2,388.5 228.1,385.8 232.1,381.7 236.1,376.6 240.1,381.6 244.0,391.6 248.0,409.2 252.0,429.6 255.9,436.6 259.9,437.7 263.9,434.2 267.9,420.4 271.8,409.6 275.8,399.2 279.8,390.8 283.7,385.5 287.7,375.9 291.7,379.5 295.7,394.8 299.6,408.2 303.6,427.5 307.6,432.8 311.5,432.0 315.5,426.3 319.5,417.7 323.5,406.7 327.4,398.1 331.4,386.1 335.4,379.2 339.4,375.5 343.3,375.8 347.3,380.7 351.3,387.3 355.2,407.7 359.2,411.6 363.2,422.0 367.2,421.9 371.1,426.5 375.1,428.8 379.1,415.8 383.0,407.0 387.0,392.5 391.0,388.9 395.0,383.1 398.9,384.6 402.9,390.1 406.9,399.2 410.8,410.3 414.8,411.0 418.8,412.0 422.8,413.9 426.7,414.4 430.7,409.0 434.7,405.1 438.7,403.4 442.6,399.9 446.6,394.1 450.6,398.2 454.5,396.4 458.5,401.3 462.5,403.4 466.5,410.2 470.4,417.4 474.4,421.6 478.4,417.7 482.3,419.9 486.3,413.3 490.3,399.5 494.3,396.7 498.2,395.3 502.2,389.4 506.2,394.0 510.1,391.1 514.1,402.0 518.1,405.2 522.1,412.2 526.0,412.2 530.0,417.3 534.0,416.0 538.0,414.2 541.9,408.1 545.9,396.3 549.9,389.7 553.8,389.2 557.8,392.8 561.8,397.0 565.8,399.6 569.7,401.1 573.7,413.5 577.7,418.5 581.6,420.1 585.6,420.3 589.6,417.3 593.6,411.6 597.5,403.5 601.5,403.3 605.5,402.7 609.4,405.5 613.4,402.8 617.4,406.0 621.4,411.9 625.3,414.7 629.3,414.8 633.3,413.7 637.3,414.5 641.2,413.0 645.2,409.7 649.2,402.8 653.1,398.4 657.1,389.5 661.1,395.4 665.1,395.6 669.0,397.1 673.0,403.4" fill="none" stroke="#000000" stroke-width="3.4" stroke-linejoin="round"/>
<polyline points="77.2,404.7 81.2,412.9 85.1,414.9 89.1,417.4 93.1,420.4 97.1,422.0 101.0,419.3 105.0,413.4 109.0,412.8 112.9,414.9 116.9,416.2 120.9,413.6 124.9,409.3 128.8,408.7 132.8,409.8 136.8,410.5 140.8,412.7 144.7,417.2 148.7,420.0 152.7,415.9 156.6,416.1 160.6,411.1 164.6,407.7 168.6,406.9 172.5,405.0 176.5,398.6 180.5,404.2 184.4,407.1 188.4,409.3 192.4,412.8 196.4,413.4 200.3,416.8 204.3,413.9 208.3,404.9 212.2,399.8 216.2,394.1 220.2,385.8 224.2,384.4 228.1,382.8 232.1,389.0 236.1,394.5 240.1,398.7 244.0,400.6 248.0,410.1 252.0,414.4 255.9,417.8 259.9,418.3 263.9,414.5 267.9,407.1 271.8,405.1 275.8,388.2 279.8,382.6 283.7,377.6 287.7,369.8 291.7,378.8 295.7,381.2 299.6,393.8 303.6,410.3 307.6,418.4 311.5,427.3 315.5,435.3 319.5,441.9 323.5,432.5 327.4,421.1 331.4,408.4 335.4,386.3 339.4,378.4 343.3,371.7 347.3,371.9 351.3,383.0 355.2,399.8 359.2,416.1 363.2,429.6 367.2,436.7 371.1,433.8 375.1,431.4 379.1,418.8 383.0,411.9 387.0,399.5 391.0,392.9 395.0,385.0 398.9,379.7 402.9,383.0 406.9,378.5 410.8,391.7 414.8,401.0 418.8,411.9 422.8,414.3 426.7,419.4 430.7,422.7 434.7,424.3 438.7,417.5 442.6,408.5 446.6,404.1 450.6,399.1 454.5,394.0 458.5,390.3 462.5,388.9 466.5,396.2 470.4,403.5 474.4,404.8 478.4,410.2 482.3,415.4 486.3,408.7 490.3,404.2 494.3,399.3 498.2,391.9 502.2,392.2 506.2,391.7 510.1,393.7 514.1,396.9 518.1,398.8 522.1,405.3 526.0,415.0 530.0,416.1 534.0,418.1 538.0,412.6 541.9,409.5 545.9,402.4 549.9,400.0 553.8,402.6 557.8,397.7 561.8,400.0 565.8,401.9 569.7,408.9 573.7,408.3 577.7,412.0 581.6,412.8 585.6,409.5 589.6,406.1 593.6,403.8 597.5,399.8 601.5,396.2 605.5,388.1 609.4,382.9 613.4,387.5 617.4,397.8 621.4,402.0 625.3,406.9 629.3,410.5 633.3,415.4 637.3,417.7 641.2,417.9 645.2,420.5 649.2,418.7 653.1,418.1 657.1,419.0 661.1,415.7 665.1,410.7 669.0,402.1 673.0,396.6" fill="none" stroke="#2828b0" stroke-width="3.4" stroke-linejoin="round"/>
<polyline points="77.2,410.5 81.2,408.5 85.1,404.2 89.1,401.1 93.1,401.5 97.1,403.7 101.0,404.7 105.0,404.2 109.0,403.3 112.9,402.8 116.9,404.5 120.9,409.2 124.9,412.3 128.8,414.8 132.8,420.4 136.8,421.6 140.8,417.3 144.7,414.3 148.7,411.7 152.7,403.0 156.6,394.7 160.6,387.8 164.6,385.8 168.6,382.3 172.5,384.2 176.5,394.0 180.5,396.8 184.4,409.2 188.4,415.4 192.4,422.8 196.4,427.8 200.3,419.1 204.3,420.3 208.3,405.3 212.2,396.4 216.2,382.6 220.2,376.0 224.2,370.6 228.1,368.6 232.1,373.3 236.1,391.8 240.1,404.9 244.0,418.5 248.0,436.0 252.0,442.7 255.9,450.3 259.9,443.5 263.9,430.5 267.9,408.2 271.8,386.9 275.8,369.3 279.8,350.1 283.7,348.9 287.7,350.8 291.7,366.1 295.7,393.0 299.6,423.2 303.6,443.9 307.6,463.5 311.5,472.8 315.5,464.8 319.5,443.7 323.5,422.6 327.4,392.9 331.4,366.5 335.4,348.1 339.4,333.7 343.3,331.8 347.3,344.8 351.3,368.4 355.2,401.0 359.2,420.7 363.2,443.2 367.2,453.2 371.1,450.6 375.1,441.1 379.1,419.4 383.0,391.5 387.0,364.4 391.0,355.3 395.0,345.9 398.9,351.6 402.9,361.6 406.9,378.2 410.8,403.3 414.8,424.9 418.8,435.9 422.8,442.8 426.7,443.2 430.7,428.0 434.7,416.5 438.7,396.5 442.6,384.7 446.6,366.6 450.6,366.3 454.5,361.7 458.5,376.2 462.5,381.9 466.5,401.6 470.4,419.4 474.4,427.9 478.4,432.4 482.3,434.3 486.3,425.6 490.3,411.5 494.3,398.1 498.2,391.4 502.2,376.0 506.2,370.6 510.1,374.2 514.1,381.7 518.1,398.5 522.1,404.7 526.0,420.1 530.0,427.6 534.0,425.9 538.0,420.7 541.9,412.8 545.9,402.3 549.9,386.5 553.8,378.7 557.8,379.4 561.8,379.0 565.8,384.0 569.7,398.6 573.7,413.6 577.7,425.9 581.6,434.6 585.6,431.6 589.6,431.9 593.6,423.0 597.5,410.9 601.5,399.6 605.5,391.5 609.4,385.9 613.4,391.1 617.4,391.9 621.4,400.9 625.3,412.9 629.3,418.5 633.3,418.5 637.3,422.9 641.2,423.2 645.2,421.8 649.2,410.1 653.1,401.9 657.1,393.4 661.1,384.5 665.1,388.1 669.0,392.4 673.0,397.2" fill="none" stroke="#7a78f8" stroke-width="3.4" stroke-linejoin="round"/>
<polyline points="77.2,423.9 81.2,420.3 85.1,411.9 89.1,404.5 93.1,402.3 97.1,396.9 101.0,392.3 105.0,399.5 109.0,403.4 112.9,394.2 116.9,401.4 120.9,419.0 124.9,422.5 128.8,416.6 132.8,423.9 136.8,419.1 140.8,414.3 144.7,411.4 148.7,408.6 152.7,407.5 156.6,395.5 160.6,385.1 164.6,369.9 168.6,377.6 172.5,384.5 176.5,392.2 180.5,409.9 184.4,429.3 188.4,438.3 192.4,453.0 196.4,460.7 200.3,454.5 204.3,440.3 208.3,419.3 212.2,389.5 216.2,362.7 220.2,346.3 224.2,338.9 228.1,341.8 232.1,350.9 236.1,371.9 240.1,402.6 244.0,433.2 248.0,459.9 252.0,483.7 255.9,489.7 259.9,479.4 263.9,420.3 267.9,355.8 271.8,313.3 275.8,307.5 279.8,305.4 283.7,300.2 287.7,309.0 291.7,344.8 295.7,388.9 299.6,442.9 303.6,487.0 307.6,521.9 311.5,530.1 315.5,523.2 319.5,498.5 323.5,465.0 327.4,423.7 331.4,378.2 335.4,336.5 339.4,307.2 343.3,298.0 347.3,300.9 351.3,332.4 355.2,382.9 359.2,442.0 363.2,482.6 367.2,508.7 371.1,500.5 375.1,477.4 379.1,438.7 383.0,400.2 387.0,350.5 391.0,320.4 395.0,314.3 398.9,313.3 402.9,319.0 406.9,341.4 410.8,383.8 414.8,432.1 418.8,469.5 422.8,479.0 426.7,481.0 430.7,462.5 434.7,435.9 438.7,402.5 442.6,370.7 446.6,347.3 450.6,331.3 454.5,336.3 458.5,349.3 462.5,379.9 466.5,406.1 470.4,438.3 474.4,459.6 478.4,472.9 482.3,472.6 486.3,453.3 490.3,433.7 494.3,405.5 498.2,381.8 502.2,361.4 506.2,356.3 510.1,360.3 514.1,375.3 518.1,399.2 522.1,423.6 526.0,438.2 530.0,447.8 534.0,448.4 538.0,443.2 541.9,422.0 545.9,401.4 549.9,380.9 553.8,364.6 557.8,358.3 561.8,359.5 565.8,372.6 569.7,399.5 573.7,428.0 577.7,447.4 581.6,459.5 585.6,464.7 589.6,452.7 593.6,433.1 597.5,414.2 601.5,393.3 605.5,380.8 609.4,367.9 613.4,367.3 617.4,381.4 621.4,398.2 625.3,417.1 629.3,428.5 633.3,441.1 637.3,446.1 641.2,436.6 645.2,426.5 649.2,411.8 653.1,401.7 657.1,385.1 661.1,376.3 665.1,380.8 669.0,382.8 673.0,386.0" fill="none" stroke="#b4b4f8" stroke-width="3.4" stroke-linejoin="round"/>
</g>
<path d="M76.45,550.5v-10M76.45,260.6v10M102.93,550.5v-5M102.93,260.6v5M129.41,550.5v-5M129.41,260.6v5M155.89,550.5v-5M155.89,260.6v5M182.37,550.5v-5M182.37,260.6v5M208.85,550.5v-10M208.85,260.6v10M235.33,550.5v-5M235.33,260.6v5M261.81,550.5v-5M261.81,260.6v5M288.29,550.5v-5M288.29,260.6v5M314.77,550.5v-5M314.77,260.6v5M341.25,550.5v-10M341.25,260.6v10M367.73,550.5v-5M367.73,260.6v5M394.21,550.5v-5M394.21,260.6v5M420.69,550.5v-5M420.69,260.6v5M447.17,550.5v-5M447.17,260.6v5M473.65,550.5v-10M473.65,260.6v10M500.13,550.5v-5M500.13,260.6v5M526.61,550.5v-5M526.61,260.6v5M553.09,550.5v-5M553.09,260.6v5M579.57,550.5v-5M579.57,260.6v5M606.05,550.5v-10M606.05,260.6v10M632.53,550.5v-5M632.53,260.6v5M659.01,550.5v-5M659.01,260.6v5M76.5,549.08h5M673.4,549.08h-5M76.5,500.95h10M673.4,500.95h-10M76.5,452.82h5M673.4,452.82h-5M76.5,404.70h10M673.4,404.70h-10M76.5,356.57h5M673.4,356.57h-5M76.5,308.45h10M673.4,308.45h-10" stroke="#000" stroke-width="2.2" fill="none"/>
<rect x="76.5" y="260.6" width="596.9" height="289.9" fill="none" stroke="#000" stroke-width="2.5"/>
<text x="61.5" y="314.6" text-anchor="end" font-size="22">5</text>
<text x="61.5" y="411.6" text-anchor="end" font-size="22">0</text>
<text x="61.5" y="509.8" text-anchor="end" font-size="22">−5</text>
<text x="76.1" y="578" text-anchor="middle" font-size="22">−4</text>
<text x="208.5" y="578" text-anchor="middle" font-size="22">−2</text>
<text x="340.9" y="578" text-anchor="middle" font-size="22">0</text>
<text x="473.3" y="578" text-anchor="middle" font-size="22">2</text>
<text x="605.8" y="578" text-anchor="middle" font-size="22">4</text>
<text x="331" y="604" font-size="26.6">Time, t (ps)</text>
<text transform="translate(27.3,536.5) rotate(-90)" font-size="27">FWM signal (arb.units)</text>
<text x="109.3" y="301.4" font-size="29">b</text>
<text x="456" y="503" font-size="24.3">Polarization angle, α</text>
<rect x="469.00" y="507" width="26.13" height="19" fill="#ffb400"/>
<rect x="494.83" y="507" width="26.13" height="19" fill="#ff6600"/>
<rect x="520.66" y="507" width="26.13" height="19" fill="#b01800"/>
<rect x="546.49" y="507" width="26.13" height="19" fill="#000000"/>
<rect x="572.31" y="507" width="26.13" height="19" fill="#2020b0"/>
<rect x="598.14" y="507" width="26.13" height="19" fill="#7878ff"/>
<rect x="623.97" y="507" width="26.13" height="19" fill="#b8b8f8"/>
<rect x="469" y="507" width="180.8" height="19" fill="none" stroke="#000" stroke-width="1.6"/>
<text x="471" y="523.5" font-size="22">0</text>
<text x="546.3" y="523.5" font-size="22" fill="#fff">90</text>
<text x="618.5" y="523.8" font-size="21.5">180</text>
</svg>
</body></html>
